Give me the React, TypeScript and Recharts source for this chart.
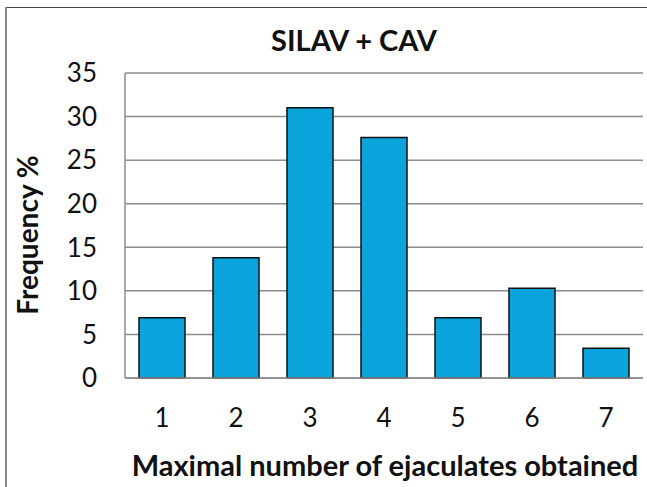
import React from 'react';
import { BarChart, Bar, XAxis, YAxis, CartesianGrid, Label } from 'recharts';

const categories = ['1', '2', '3', '4', '5', '6', '7'];
const frequency = [6.9, 13.8, 31.0, 27.6, 6.9, 10.3, 3.4];
const yTicks = [0, 5, 10, 15, 20, 25, 30, 35];
const title = 'SILAV + CAV';
const xTitle = 'Maximal number of ejaculates obtained';
const yTitle = 'Frequency %';

const data = categories.map((c, i) => ({ category: c, frequency: frequency[i] }));

const FONT = 'Lato, "Open Sans", sans-serif';

export default function App() {
  return (
    <div style={{ position: 'absolute', left: 0, top: 0, width: 647, height: 487, background: '#fff', fontFamily: FONT }}>
      <div style={{ position: 'absolute', left: 5, top: 7, width: 642, height: 1, background: '#444' }} />
      <div style={{ position: 'absolute', left: 5, top: 7, width: 2, height: 480, background: '#8a8a8a' }} />
      <BarChart width={647} height={487} data={data} margin={{ top: 73, right: 4, left: 0, bottom: 0 }}>
        <text x={354} y={51} textAnchor="middle" fontFamily={FONT} fontWeight="bold" fontSize={29} fill="#111">
          {title}
        </text>
        <CartesianGrid vertical={false} stroke="#8c8c8c" strokeWidth={1.5} />
        <XAxis
          dataKey="category"
          height={109}
          tickLine={false}
          tickSize={0}
          tickMargin={31}
          axisLine={{ stroke: '#8c8c8c', strokeWidth: 1.5 }}
          tick={{ fill: '#111', fontSize: 26, fontFamily: FONT }}
        >
          <Label
            content={() => (
              <text x={385} y={476} textAnchor="middle" fontFamily={FONT} fontWeight="bold" fontSize={29} fill="#111">
                {xTitle}
              </text>
            )}
          />
        </XAxis>
        <YAxis
          width={125}
          domain={[0, 35]}
          ticks={yTicks}
          interval={0}
          tickLine={false}
          tickSize={0}
          tickMargin={28}
          axisLine={{ stroke: '#8c8c8c', strokeWidth: 1.5 }}
          tick={{ fill: '#111', fontSize: 26, fontFamily: FONT }}
        >
          <Label
            content={() => (
              <text
                x={38}
                y={235}
                transform="rotate(-90, 38, 235)"
                textAnchor="middle"
                fontFamily={FONT}
                fontWeight="bold"
                fontSize={28}
                fill="#111"
              >
                {yTitle}
              </text>
            )}
          />
        </YAxis>
        <Bar dataKey="frequency" fill="#0ba3dc" stroke="#111" strokeWidth={1.5} barSize={46} isAnimationActive={false} />
      </BarChart>
    </div>
  );
}
